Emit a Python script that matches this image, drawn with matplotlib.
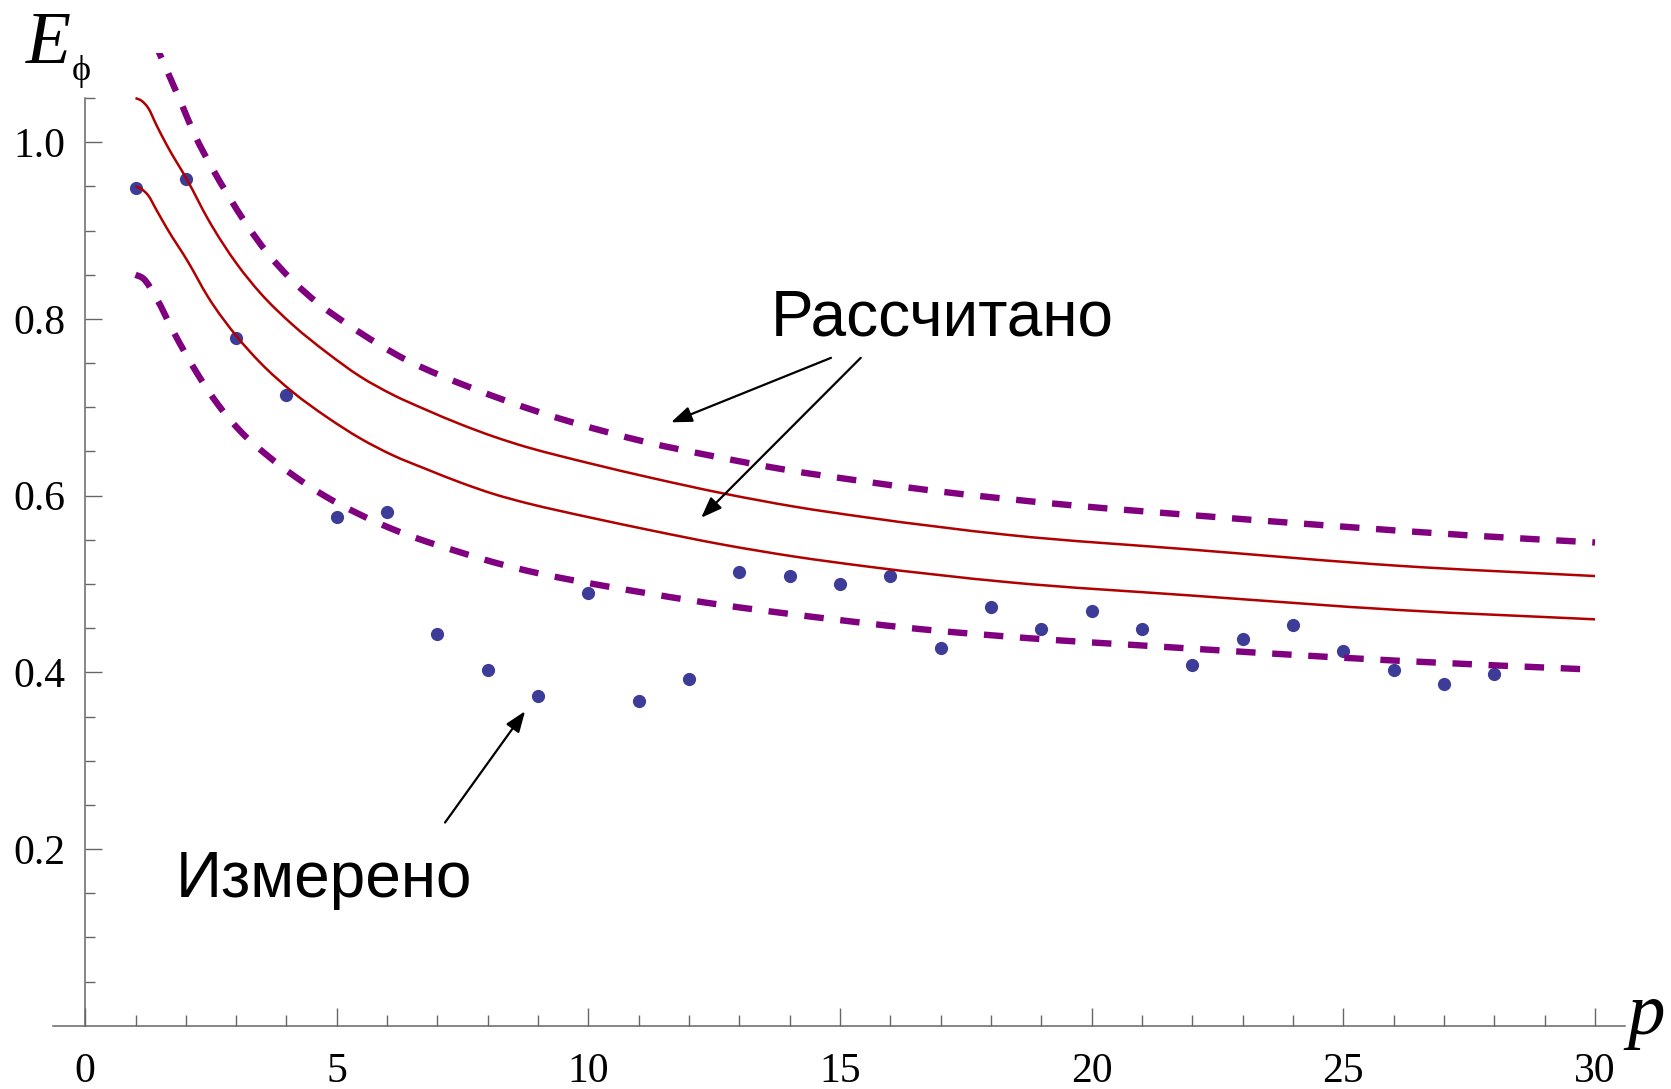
import numpy as np
import matplotlib; matplotlib.use('Agg')
import matplotlib.pyplot as plt
from matplotlib.ticker import FixedLocator
from matplotlib.path import Path
from matplotlib.patches import PathPatch

plt.rcParams.update({'font.family': ['Liberation Serif', 'DejaVu Serif'],
                     'lines.scale_dashes': False})
RED = '#B00000'; PURP = '#800080'; DOT = '#3D3D99'; AX = '#666666'

# measured points
p_meas = list(range(1, 29))
e_meas = [0.948, 0.958, 0.779, 0.714, 0.576, 0.581, 0.443, 0.403, 0.373, 0.490,
          0.368, 0.393, 0.514, 0.509, 0.500, 0.509, 0.428, 0.474, 0.449, 0.469,
          0.449, 0.408, 0.438, 0.454, 0.424, 0.403, 0.387, 0.398]

# calculated curves (solid, red)
p_red = [1.0, 1.12, 1.25, 1.42, 1.62, 2.04, 2.44, 3.03, 3.47, 4.13, 4.80, 5.46, 6.12,
         6.78, 7.45, 8.11, 8.77, 9.43, 10.03, 11.26, 12.68, 14.1, 15.51, 18.35, 21.97,
         26.13, 30.0]
e_red_hi = [1.050, 1.047, 1.039, 1.019, 0.997, 0.956, 0.913, 0.861, 0.830, 0.793, 0.762,
            0.735, 0.714, 0.697, 0.681, 0.667, 0.655, 0.645, 0.6365, 0.620, 0.6025, 0.5875,
            0.5755, 0.5555, 0.539, 0.5205, 0.509]
e_red_lo = [0.950, 0.947, 0.940, 0.923, 0.903, 0.865, 0.825, 0.779, 0.751, 0.717, 0.689,
            0.665, 0.6455, 0.630, 0.615, 0.602, 0.5916, 0.5828, 0.5753, 0.5605, 0.5445,
            0.531, 0.520, 0.502, 0.487, 0.4705, 0.460]

# bounds (dashed, purple)
p_dash_hi = [1.0, 1.18, 1.48, 1.91, 2.18, 2.51, 2.84, 3.17, 3.63, 4.09, 4.62, 5.21, 5.81,
             6.40, 7.06, 7.72, 8.38, 9.05, 9.74, 11.12, 12.54, 13.95, 15.37, 16.79, 18.2,
             19.62, 21.97, 24.74, 27.51, 30.0]
e_dash_hi = [1.150, 1.139, 1.100, 1.044, 1.008, 0.972, 0.940, 0.910, 0.874, 0.845, 0.818,
             0.794, 0.772, 0.753, 0.736, 0.721, 0.707, 0.694, 0.682, 0.661, 0.644, 0.629,
             0.617, 0.606, 0.597, 0.589, 0.578, 0.566, 0.555, 0.547]
p_dash_lo = [1.0, 1.15, 1.42, 1.75, 2.24, 2.64, 3.10, 3.63, 4.16, 4.75, 5.41, 6.07, 6.73,
             7.39, 8.09, 8.78, 9.44, 10.1, 10.91, 12.32, 13.74, 15.16, 16.58, 18.0, 19.41,
             20.83, 23.36, 26.13, 30.0]
e_dash_lo = [0.850, 0.846, 0.823, 0.786, 0.737, 0.703, 0.672, 0.645, 0.622, 0.600, 0.580,
             0.563, 0.549, 0.537, 0.525, 0.515, 0.507, 0.500, 0.492, 0.479, 0.468, 0.458,
             0.449, 0.442, 0.436, 0.431, 0.422, 0.413, 0.403]


def smooth(x, y):
    # cubic Hermite segments through the read points, drawn as a bezier path
    x = np.asarray(x, float); y = np.asarray(y, float)
    h = np.diff(x); d = np.diff(y) / h
    m = np.empty_like(y)
    m[0], m[-1] = d[0], d[-1]
    m[1:-1] = (h[:-1] * d[1:] + h[1:] * d[:-1]) / (h[:-1] + h[1:])
    verts = [(x[0], y[0])]; codes = [Path.MOVETO]
    for i in range(len(x) - 1):
        verts += [(x[i] + h[i] / 3, y[i] + m[i] * h[i] / 3),
                  (x[i + 1] - h[i] / 3, y[i + 1] - m[i + 1] * h[i] / 3),
                  (x[i + 1], y[i + 1])]
        codes += [Path.CURVE4] * 3
    return Path(verts, codes)


fig = plt.figure(figsize=(16.71, 10.89), dpi=100)
ax = fig.add_axes([0.032, 0.0581, 0.9406, 0.8932])

ax.plot(p_meas, e_meas, 'o', ms=9.5, color=DOT, mec='none', zorder=2)
for e in (e_red_hi, e_red_lo):
    ax.add_patch(PathPatch(smooth(p_red, e), fc='none', ec=RED, lw=1.8, zorder=3))
for px, e in ((p_dash_hi, e_dash_hi), (p_dash_lo, e_dash_lo)):
    ax.add_patch(PathPatch(smooth(px, e), fc='none', ec=PURP, lw=4.6,
                           ls=(0, (14, 12)), capstyle='butt', zorder=3))

ax.set_xlim(-0.63, 30.6); ax.set_ylim(0, 1.101)
for s in ('top', 'right'): ax.spines[s].set_visible(False)
ax.spines['left'].set_position(('data', 0)); ax.spines['left'].set_bounds(0, 1.05)
for s in ('left', 'bottom'):
    ax.spines[s].set_color(AX); ax.spines[s].set_linewidth(1.1)

ax.xaxis.set_major_locator(FixedLocator([0, 5, 10, 15, 20, 25, 30]))
ax.xaxis.set_minor_locator(FixedLocator([i for i in range(1, 31) if i % 5]))
ax.yaxis.set_major_locator(FixedLocator([0.2, 0.4, 0.6, 0.8, 1.0]))
ax.yaxis.set_minor_locator(FixedLocator([0.05, 0.1, 0.15, 0.25, 0.3, 0.35, 0.45, 0.5, 0.55,
                                         0.65, 0.7, 0.75, 0.85, 0.9, 0.95, 1.05]))
ax.tick_params(axis='x', which='major', direction='in', length=13, width=1, color=AX, pad=19, labelsize=30)
ax.tick_params(axis='x', which='minor', direction='in', length=8, width=1, color=AX)
ax.tick_params(axis='y', which='major', direction='in', length=12, width=1, color=AX, pad=14, labelsize=30)
ax.tick_params(axis='y', which='minor', direction='in', length=7.5, width=1, color=AX)

sans = ['Liberation Sans', 'DejaVu Sans']
fig.text(771/1671, 1-335/1089, 'Рассчитано', family=sans, fontsize=46, ha='left', va='baseline')
fig.text(176/1671, 1-897/1089, 'Измерено', family=sans, fontsize=46, ha='left', va='baseline')

arr = dict(arrowstyle='-|>,head_length=0.45,head_width=0.17', color='k', lw=1.6,
           mutation_scale=28, shrinkA=0, shrinkB=0)
ax.annotate('', xy=(11.64, 0.683), xytext=(14.82, 0.756), arrowprops=arr)
ax.annotate('', xy=(12.24, 0.575), xytext=(15.41, 0.756), arrowprops=arr)
ax.annotate('', xy=(8.74, 0.356), xytext=(7.15, 0.230), arrowprops=arr)

fig.text(26/1671, 1-63/1089, 'E', fontsize=53, style='italic', ha='left', va='baseline')
fig.text(72/1671, 1-80/1089, 'ϕ', fontsize=26, ha='left', va='baseline')
fig.text(1627/1671, 1-1034/1089, 'p', fontsize=54, style='italic', ha='left', va='baseline')

fig.savefig('out.png', dpi=100, facecolor='white')
